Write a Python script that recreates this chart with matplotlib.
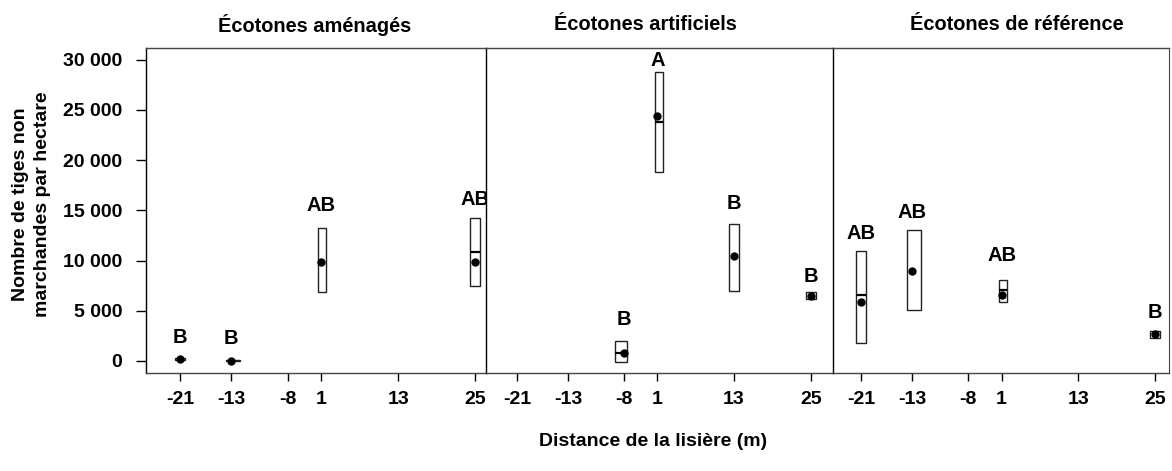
import numpy as np
import matplotlib
matplotlib.use("Agg")
import matplotlib.pyplot as plt

plt.rcParams['font.family'] = ['Liberation Sans', 'DejaVu Sans']
plt.rcParams['font.weight'] = 'bold'
plt.rcParams['font.size'] = 14

# Distances de la lisière (m) - étiquettes des graduations
distances = [-21, -13, -8, 1, 13, 25]
y_ticks = [0, 5000, 10000, 15000, 20000, 25000, 30000]

titres = ['Écotones aménagés', 'Écotones artificiels', 'Écotones de référence']

# Écotones aménagés
x_amen = [-21, -13, 1, 25]
bas_amen = [80, -40, 6890, 7420]
haut_amen = [300, 100, 13280, 14240]
med_amen = [np.nan, np.nan, np.nan, 10800]
moy_amen = [170, 30, 9830, 9830]
lettres_amen = ['B', 'B', 'AB', 'AB']
lettres_y_amen = [2350, 2250, 15430, 16090]

# Écotones artificiels
x_arti = [-8, 1, 13, 25]
bas_arti = [-130, 18840, 6920, 6160]
haut_arti = [1950, 28780, 13610, 6850]
med_arti = [800, 23810, np.nan, np.nan]
moy_arti = [790, 24370, 10430, 6490]
lettres_arti = ['B', 'A', 'B', 'B']
lettres_y_arti = [4100, 29900, 15660, 8410]

# Écotones de référence
x_ref = [-21, -13, 1, 25]
bas_ref = [1820, 5100, 5860, 2320]
haut_ref = [10960, 13050, 8080, 2950]
med_ref = [6520, np.nan, 7020, np.nan]
moy_ref = [5890, 8910, 6590, 2650]
lettres_ref = ['AB', 'AB', 'AB', 'B']
lettres_y_ref = [12650, 14830, 10530, 4840]

panneaux = [
    (x_amen, bas_amen, haut_amen, med_amen, moy_amen, lettres_amen, lettres_y_amen),
    (x_arti, bas_arti, haut_arti, med_arti, moy_arti, lettres_arti, lettres_y_arti),
    (x_ref, bas_ref, haut_ref, med_ref, moy_ref, lettres_ref, lettres_y_ref),
]

# échelle x non linéaire (la graduation -8 est décalée dans la figure d'origine)
noeuds = [-100, -21, -13, -8, 1, 13, 25, 100]
deforme = [-100, -21, -13, -4.2, 1, 13, 25, 100]

def avant(x):
    return np.interp(x, noeuds, deforme)

def arriere(x):
    return np.interp(x, deforme, noeuds)

fig = plt.figure(figsize=(11.72, 4.71), dpi=100)

# positions des panneaux (fraction de la figure)
gauches = [0.1246, 0.4147, 0.7108]
largeurs = [0.2901, 0.2961, 0.2866]
xlims = [(-26.3, 26.7), (-25.85, 28.5), (-25.4, 27.2)]
titre_x = [0.497, 0.46, 0.547]

largeur_boite = 1.6

for i, (xs, bas, haut, med, moy, lettres, lettres_y) in enumerate(panneaux):
    ax = fig.add_axes([gauches[i], 0.208, largeurs[i], 0.691])
    ax.set_xscale('function', functions=(avant, arriere))
    ax.set_xlim(*xlims[i])
    ax.set_ylim(-1200, 31200)

    xs = np.array(xs, dtype=float)
    bas = np.array(bas, dtype=float)
    haut = np.array(haut, dtype=float)

    ax.bar(xs, haut - bas, bottom=bas, width=largeur_boite, fill=False,
           edgecolor='#222222', linewidth=1.0)
    ax.hlines(med, xs - largeur_boite / 2, xs + largeur_boite / 2,
              color='black', linewidth=1.6)
    ax.plot(xs, moy, 'o', color='black', markersize=5)

    for x, ly, lettre in zip(xs, lettres_y, lettres):
        ax.text(x, ly, lettre, ha='center', va='center', fontsize=14.5,
                fontweight='bold')

    ax.set_xticks(distances)
    ax.set_xticklabels([str(d) for d in distances])
    ax.tick_params(axis='x', length=6, width=1, pad=7, labelsize=14)

    if i == 0:
        ax.set_yticks(y_ticks)
        ax.set_yticklabels([f'{v:,}'.replace(',', ' ') for v in y_ticks])
        ax.tick_params(axis='y', length=7, width=1, pad=10, labelsize=14)
    else:
        ax.set_yticks([])

    for cote in ['top', 'bottom']:
        ax.spines[cote].set_color('#444444')
        ax.spines[cote].set_linewidth(1.0)
    ax.spines['left'].set_color('black')
    ax.spines['left'].set_linewidth(1.0)
    ax.spines['right'].set_visible(i == 2)
    ax.spines['right'].set_color('#444444')

    ax.text(titre_x[i], 1.07, titres[i], transform=ax.transAxes,
            ha='center', va='center', fontsize=14.4, fontweight='bold')

fig.text(0.027, 0.566, 'Nombre de tiges non\nmarchandes par hectare',
         rotation=90, ha='center', va='center', multialignment='center',
         linespacing=1.35, fontsize=14, fontweight='bold')
fig.text(0.557, 0.0616, 'Distance de la lisière (m)', ha='center',
         va='center', fontsize=14, fontweight='bold')

fig.savefig('out.png', dpi=100)
